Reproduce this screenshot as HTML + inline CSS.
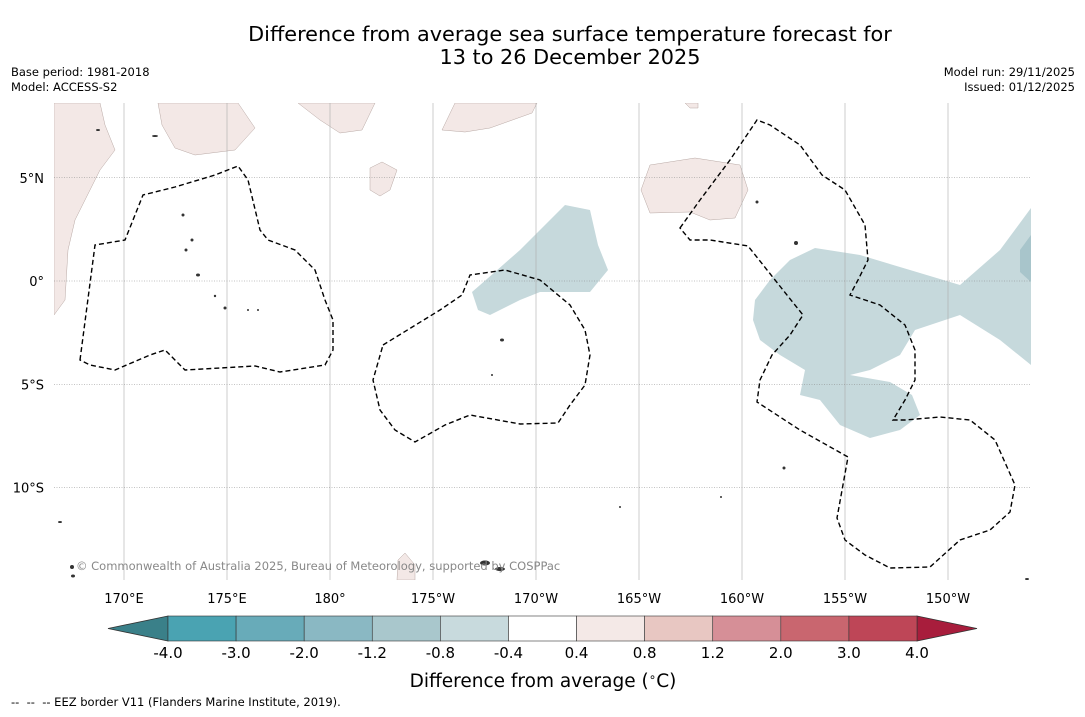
<!DOCTYPE html>
<html><head><meta charset="utf-8">
<style>
html,body{margin:0;padding:0;background:#fff;}
body{width:1085px;height:713px;overflow:hidden;font-family:"DejaVu Sans","Liberation Sans",sans-serif;}
svg text{font-family:"DejaVu Sans","Liberation Sans",sans-serif;}
</style></head>
<body>
<svg id="chart" width="1085" height="713" viewBox="0 0 1085 713" xmlns="http://www.w3.org/2000/svg">
<text x="570" y="41" font-size="20.8" text-anchor="middle">Difference from average sea surface temperature forecast for</text>
<text x="570" y="64" font-size="20.8" text-anchor="middle">13 to 26 December 2025</text>
<text x="11" y="76" font-size="11.5">Base period: 1981-2018</text>
<text x="11" y="91" font-size="11.5">Model: ACCESS-S2</text>
<text x="1075" y="76" font-size="11.5" text-anchor="end">Model run: 29/11/2025</text>
<text x="1075" y="91" font-size="11.5" text-anchor="end">Issued: 01/12/2025</text>

<g>
<clipPath id="mc"><rect x="54" y="103" width="977" height="477"/></clipPath>
<g clip-path="url(#mc)">
<g fill="#c6d9dc">
<path d="M472,292 L495,272 L520,250 L545,225 L565,205 L590,210 L598,245 L608,270 L590,292 L540,292 L520,300 L490,315 L478,310 Z"/>
<path d="M755,300 L770,280 L790,260 L815,248 L860,255 L910,270 L960,285 L1000,250 L1031,208 L1031,365 L1000,340 L960,315 L915,330 L900,355 L870,370 L850,375 L890,382 L912,395 L920,415 L900,430 L870,438 L840,425 L820,400 L800,395 L805,370 L780,355 L760,340 L753,320 Z"/>
<path fill="#a8c5cb" d="M1020,250 L1031,235 L1031,282 L1020,272 Z"/>
</g>
<g fill="#f3e8e6" stroke="#b8a8a4" stroke-width="0.5">
<path d="M54,103 L100,103 L105,125 L115,150 L100,170 L90,190 L75,220 L68,250 L65,300 L54,315 Z"/>
<path d="M158,103 L238,103 L255,128 L235,150 L195,155 L175,148 L162,125 Z"/>
<path d="M298,103 L375,103 L362,130 L340,133 L320,120 Z"/>
<path d="M455,103 L537,103 L532,113 L490,128 L465,132 L442,130 Z"/>
<path d="M370,168 L382,162 L397,170 L390,190 L380,196 L370,190 Z"/>
<path d="M650,165 L695,158 L740,165 L748,190 L735,218 L710,220 L690,212 L650,213 L641,190 Z"/>
<path d="M397,580 L398,560 L405,553 L415,565 L415,580 Z"/>
<path d="M685,103 L698,103 L698,108 L690,108 Z"/>
</g>
<g id="grid"></g>
<g fill="#333">
<ellipse cx="192" cy="240" rx="1.5" ry="1.5"/><ellipse cx="186" cy="250" rx="1.5" ry="1.5"/><ellipse cx="198" cy="275" rx="2" ry="1.5"/><ellipse cx="215" cy="296" rx="1.2" ry="1.2"/><ellipse cx="225" cy="308" rx="1.5" ry="1.5"/><ellipse cx="248" cy="310" rx="1" ry="1"/><ellipse cx="258" cy="310" rx="1" ry="1"/><ellipse cx="183" cy="215" rx="1.5" ry="1.5"/><ellipse cx="155" cy="136" rx="3" ry="1"/><ellipse cx="98" cy="130" rx="2" ry="1"/><ellipse cx="502" cy="340" rx="2" ry="1.5"/><ellipse cx="492" cy="375" rx="1" ry="1"/><ellipse cx="796" cy="243" rx="2" ry="2"/><ellipse cx="757" cy="202" rx="1.5" ry="1.5"/><ellipse cx="784" cy="468" rx="1.5" ry="1.5"/><ellipse cx="60" cy="522" rx="2" ry="1"/><ellipse cx="485" cy="563" rx="5" ry="2.5"/><ellipse cx="500" cy="569" rx="5" ry="2"/><ellipse cx="72" cy="567" rx="2" ry="2"/><ellipse cx="73" cy="576" rx="2" ry="1.5"/><ellipse cx="721" cy="497" rx="1" ry="1"/><ellipse cx="620" cy="507" rx="1" ry="1"/><ellipse cx="1027" cy="579" rx="2" ry="1"/>
</g>
<g fill="none" stroke="#000" stroke-width="1.4" stroke-dasharray="5,3">
<path d="M80,360 L95,245 L125,240 L143,195 L175,187 L215,175 L238,166 L248,180 L260,230 L268,240 L295,250 L315,270 L325,300 L333,320 L333,350 L325,365 L280,372 L255,366 L185,370 L165,350 L150,355 L115,370 L90,365 Z"/>
<path d="M383,345 L440,310 L462,295 L470,275 L505,270 L540,280 L570,305 L585,330 L590,355 L585,385 L570,405 L558,423 L520,424 L470,415 L445,425 L415,442 L395,430 L380,410 L373,380 Z"/>
<path d="M680,228 L700,200 L730,160 L757,120 L770,125 L800,145 L822,175 L845,190 L865,225 L868,260 L858,280 L850,295 L880,305 L905,325 L915,350 L915,380 L905,400 L893,420 L905,420 L940,417 L970,420 L995,440 L1015,485 L1010,512 L990,530 L960,540 L930,567 L890,568 L865,555 L845,540 L837,518 L848,457 L800,430 L757,402 L760,380 L772,355 L790,335 L803,315 L783,290 L748,246 L710,240 L690,240 Z"/>
</g>
</g>
<text x="76" y="570" font-size="11.5" fill="#888">© Commonwealth of Australia 2025, Bureau of Meteorology, supported by COSPPac</text>
<g id="axes"></g>
</g>

<g id="cbar"></g>
<text x="543" y="687" font-size="18.5" text-anchor="middle">Difference from average (<tspan font-size="12" dy="-6">∘</tspan><tspan dy="6">C)</tspan></text>
<text x="11" y="706" font-size="11.5" xml:space="preserve">--  --  -- EEZ border V11 (Flanders Marine Institute, 2019).</text>
</svg>
<script>
const lonTicks = [170, 175, 180, 185, 190, 195, 200, 205, 210];
const lonLabels = ["170°E","175°E","180°","175°W","170°W","165°W","160°W","155°W","150°W"];
const latTicks = [5, 0, -5, -10];
const latLabels = ["5°N","0°","5°S","10°S"];
const cbarBounds = [-4.0,-3.0,-2.0,-1.2,-0.8,-0.4,0.4,0.8,1.2,2.0,3.0,4.0];
const cbarLabels = ["-4.0","-3.0","-2.0","-1.2","-0.8","-0.4","0.4","0.8","1.2","2.0","3.0","4.0"];
const cbarColors = ["#4aa3b2","#68abb9","#8ab8c3","#a9c7cc","#c8dadd","#ffffff","#f4e9e7","#e8c7c2","#d68f97","#c9666f","#be4657"];
const NS = "http://www.w3.org/2000/svg";
const xLon = l => 124 + (l - 170) * 20.6;
const yLat = l => 281 - l * 20.65;
function mk(tag, attrs, parent, txt){const e=document.createElementNS(NS,tag);for(const k in attrs)e.setAttribute(k,attrs[k]);if(txt!==undefined)e.textContent=txt;parent.appendChild(e);return e;}
const grid=document.getElementById('grid'), axes=document.getElementById('axes'), cbar=document.getElementById('cbar');
lonTicks.forEach((l,i)=>{
  const ln=mk('line',{x1:xLon(l),x2:xLon(l),y1:103,y2:580,stroke:'#aaa','stroke-width':0.6},grid);
  
  
  const t=mk('text',{x:xLon(l),y:603,'font-size':13,'text-anchor':'middle'},axes,lonLabels[i]);
  
  
});
latTicks.forEach((l,i)=>{
  const ln=mk('line',{x1:54,x2:1031,y1:yLat(l),y2:yLat(l),stroke:'#888','stroke-width':0.6,'stroke-dasharray':'1,1.5'},grid);
  
  
  const t=mk('text',{x:44,y:yLat(l)+5,'font-size':13,'text-anchor':'end'},axes,latLabels[i]);
  
  
});
const cx0=168, cx1=917, cy0=616, cy1=641, n=cbarColors.length, w=(cx1-cx0)/n;
const la=mk('polygon',{points:`${cx0},${cy0} 108,${(cy0+cy1)/2} ${cx0},${cy1}`,fill:'#3a8089',stroke:'#333','stroke-width':0.8},cbar);


const ra=mk('polygon',{points:`${cx1},${cy0} 977,${(cy0+cy1)/2} ${cx1},${cy1}`,fill:'#a81d3c',stroke:'#333','stroke-width':0.8},cbar);


cbarColors.forEach((c,i)=>{
  const r=mk('rect',{x:cx0+i*w,y:cy0,width:w,height:cy1-cy0,fill:c,stroke:'#333','stroke-width':0.6},cbar);
  
  
});
cbarBounds.forEach((b,i)=>{
  const t=mk('text',{x:cx0+i*w,y:658,'font-size':15,'text-anchor':'middle'},cbar,cbarLabels[i]);
  
  
});
</script>
</body></html>
